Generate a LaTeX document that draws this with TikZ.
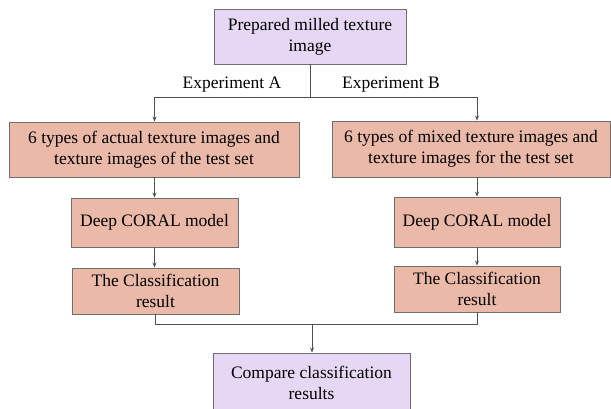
\documentclass[tikz,border=0pt]{standalone}
\usepackage{fontspec}
\setmainfont{Liberation Serif}
\usetikzlibrary{arrows.meta,positioning}
\definecolor{lav}{HTML}{E6D8F5}
\definecolor{salmon}{HTML}{EBB9A8}
\definecolor{edge}{HTML}{6E6E6E}
\definecolor{wire}{HTML}{505050}
\tikzset{
  boxA/.style={draw=edge,line width=0.9pt,fill=lav,inner sep=0pt,align=center,font=\fontsize{17.5}{21}\selectfont},
  boxB/.style={draw=edge,line width=0.9pt,fill=salmon,inner sep=0pt,align=center,font=\fontsize{17.5}{21}\selectfont},
  wirestyle/.style={draw=wire,line width=0.8pt},
  arr/.style={wirestyle,-{Stealth[length=5pt,width=4pt]}},
  lbl/.style={font=\fontsize{17.5}{21}\selectfont,inner sep=0pt}
}
\begin{document}
\begin{tikzpicture}[x=1pt,y=-1pt]
\useasboundingbox (0,0) rectangle (611,409);
\clip (0,0) rectangle (611,409);
\fill[white] (0,0) rectangle (611,409);
% boxes
\node[boxA,minimum width=192pt,minimum height=55pt] (top) at (310,36.5) {Prepared milled texture\\image};
\node[boxB,minimum width=290pt,minimum height=55pt] (L2) at (154,149.5) {6 types of actual texture images and\\texture images of the test set};
\node[boxB,minimum width=278pt,minimum height=56pt] (R2) at (471,149) {6 types of mixed texture images and\\texture images for the test set};
\node[boxB,minimum width=167pt,minimum height=49pt] (LD) at (154.5,222.5) {Deep CORAL model};
\node[boxB,minimum width=166pt,minimum height=50pt] (RD) at (477,222) {Deep CORAL model};
\node[boxB,minimum width=167pt,minimum height=46pt] (LC) at (155.5,291) {The Classification\\result};
\node[boxB,minimum width=166pt,minimum height=46pt] (RC) at (477,289) {The Classification\\result};
\node[boxA,minimum width=197pt,minimum height=60pt] (bot) at (311.5,383) {Compare classification\\results};
% labels
\node[lbl] (ea) at (232,85) {Experiment A};
\node[lbl] (eb) at (391,85) {Experiment B};
% connectors
\coordinate (split) at (310,97);
\coordinate (merge) at (312,324);
\draw[wirestyle] (top.south) -- (split);
\draw[wirestyle] (split -| LD) -- (split -| RD);
\draw[arr] (split -| LD) -- (L2.north -| LD);
\draw[arr] (split -| RD) -- (R2.north -| RD);
\draw[arr] (L2.south -| LD) -- (LD.north);
\draw[arr] (R2.south -| RD) -- (RD.north);
\draw[arr] (LD.south) -- (LD.south |- LC.north);
\draw[arr] (RD.south) -- (RC.north);
\draw[wirestyle] (LC.south) -- (LC.south |- merge) -- (RC.south |- merge) -- (RC.south);
\draw[arr] (merge) -- (merge |- bot.north);
\end{tikzpicture}
\end{document}
